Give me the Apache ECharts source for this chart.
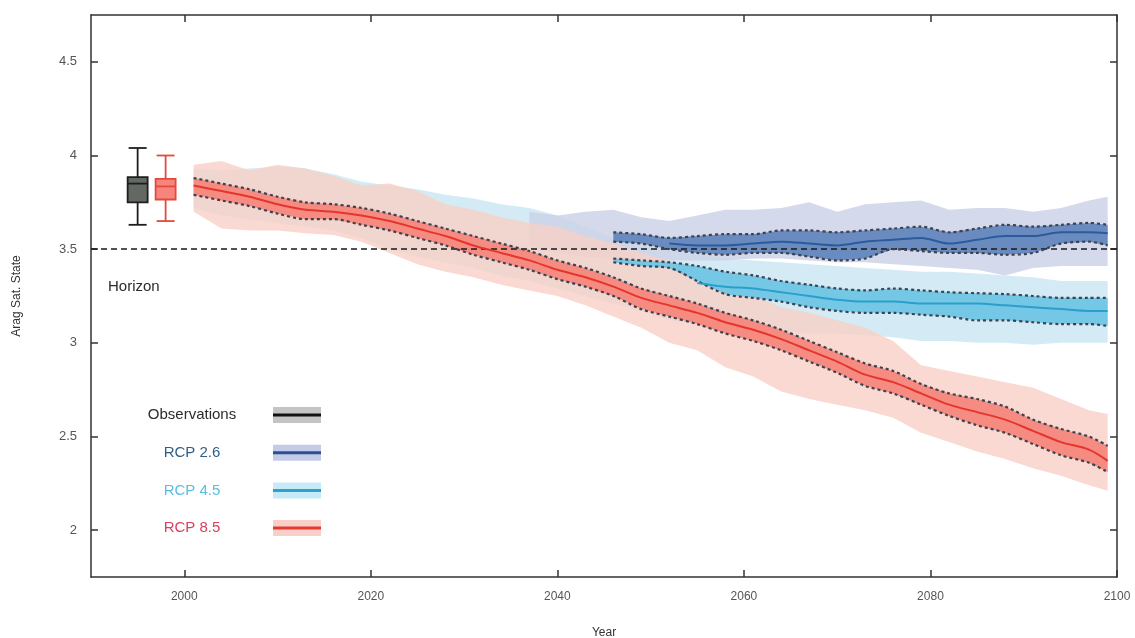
<!DOCTYPE html>
<html>
<head>
<meta charset="utf-8">
<script src="https://cdn.jsdelivr.net/npm/echarts@6/dist/echarts.min.js"></script>
<style>
html,body{margin:0;padding:0;background:#fff;}
#chart{width:1135px;height:638px;}
</style>
</head>
<body>
<div id="chart"></div>
<script>
// ---------------- data ----------------
const years = [2001,2004,2007,2010,2013,2016,2019,2022,2025,2028,2031,2034,2037,2040,2043,2046,2049,2052,2055,2058,2061,2064,2067,2070,2073,2076,2079,2082,2085,2088,2091,2094,2097,2099];

const rcp85Mean  = [3.84,3.81,3.78,3.74,3.71,3.70,3.68,3.65,3.61,3.57,3.52,3.48,3.44,3.39,3.35,3.30,3.24,3.20,3.16,3.11,3.07,3.02,2.96,2.90,2.83,2.79,2.73,2.67,2.63,2.59,2.53,2.47,2.43,2.37];
const rcp85InHi  = [3.88,3.85,3.82,3.78,3.75,3.74,3.72,3.69,3.65,3.61,3.57,3.53,3.49,3.44,3.40,3.35,3.29,3.25,3.21,3.16,3.12,3.07,3.01,2.95,2.89,2.85,2.78,2.73,2.70,2.66,2.59,2.54,2.50,2.45];
const rcp85InLo  = [3.79,3.76,3.73,3.69,3.66,3.66,3.63,3.60,3.56,3.52,3.47,3.43,3.39,3.34,3.30,3.25,3.18,3.14,3.10,3.05,3.01,2.96,2.90,2.84,2.77,2.73,2.67,2.61,2.56,2.52,2.46,2.40,2.36,2.31];
const rcp85OutHi = [3.95,3.97,3.92,3.95,3.93,3.89,3.84,3.85,3.81,3.74,3.71,3.67,3.64,3.62,3.57,3.53,3.48,3.44,3.37,3.31,3.25,3.19,3.16,3.12,3.08,3.01,2.88,2.85,2.82,2.79,2.76,2.70,2.64,2.62];
const rcp85OutLo = [3.70,3.61,3.60,3.60,3.585,3.575,3.54,3.48,3.42,3.38,3.35,3.31,3.28,3.25,3.20,3.14,3.08,3.00,2.96,2.87,2.82,2.74,2.70,2.67,2.64,2.60,2.52,2.47,2.42,2.38,2.33,2.29,2.24,2.21];

const rcp45OutHi = [3.93,3.92,3.93,3.94,3.93,3.90,3.86,3.84,3.82,3.79,3.77,3.74,3.72,3.68,3.62,3.56,3.52,3.49,3.47,3.45,3.44,3.43,3.42,3.41,3.40,3.39,3.38,3.38,3.37,3.36,3.35,3.33,3.33,3.33];
const rcp45OutLo = [3.72,3.68,3.66,3.64,3.62,3.60,3.56,3.50,3.46,3.43,3.40,3.36,3.33,3.29,3.25,3.21,3.17,3.12,3.10,3.08,3.07,3.06,3.05,3.05,3.04,3.03,3.01,3.01,3.00,3.00,2.99,3.00,3.00,3.00];
const rcp45InHi  = [null,null,null,null,null,null,null,null,null,null,null,null,null,null,null,3.45,3.44,3.43,3.41,3.38,3.36,3.33,3.31,3.29,3.28,3.29,3.28,3.27,3.265,3.26,3.25,3.24,3.24,3.24];
const rcp45InLo  = [null,null,null,null,null,null,null,null,null,null,null,null,null,null,null,3.43,3.41,3.40,3.33,3.26,3.24,3.22,3.19,3.17,3.16,3.16,3.15,3.14,3.12,3.12,3.11,3.10,3.10,3.09];
const rcp45Mean  = [null,null,null,null,null,null,null,null,null,null,null,null,null,null,null,null,null,null,3.32,3.30,3.29,3.27,3.25,3.23,3.22,3.22,3.21,3.21,3.21,3.20,3.19,3.18,3.17,3.17];

const rcp26OutHi = [null,null,null,null,null,null,null,null,null,null,null,null,3.70,3.68,3.70,3.71,3.67,3.65,3.68,3.71,3.71,3.72,3.75,3.70,3.74,3.75,3.76,3.71,3.72,3.72,3.70,3.72,3.76,3.78];
const rcp26OutLo = [null,null,null,null,null,null,null,null,null,null,null,null,3.52,3.48,3.46,3.45,3.44,3.44,3.44,3.44,3.45,3.45,3.44,3.43,3.43,3.42,3.41,3.40,3.39,3.36,3.40,3.41,3.41,3.41];
const rcp26InHi  = [null,null,null,null,null,null,null,null,null,null,null,null,null,null,null,3.59,3.58,3.56,3.57,3.58,3.58,3.60,3.60,3.59,3.60,3.61,3.62,3.59,3.61,3.63,3.62,3.63,3.64,3.63];
const rcp26InLo  = [null,null,null,null,null,null,null,null,null,null,null,null,null,null,null,3.54,3.53,3.50,3.48,3.47,3.48,3.48,3.46,3.44,3.45,3.50,3.49,3.48,3.48,3.47,3.48,3.53,3.54,3.52];
const rcp26Mean  = [null,null,null,null,null,null,null,null,null,null,null,null,null,null,null,null,null,3.53,3.52,3.52,3.53,3.54,3.53,3.52,3.54,3.55,3.56,3.53,3.55,3.57,3.57,3.59,3.59,3.585];

// box plots: [year, min, q1, median, q3, max]
const obsBox   = [1995, 3.63, 3.75, 3.85, 3.885, 4.04];
const modelBox = [1998, 3.65, 3.765, 3.835, 3.875, 4.00];

const horizonValue = 3.5;
const xTicks = [2000, 2020, 2040, 2060, 2080, 2100];
const yTicks = [2, 2.5, 3, 3.5, 4, 4.5];
const legendNames = ['Observations', 'RCP 2.6', 'RCP 4.5', 'RCP 8.5'];

// ---------------- helpers ----------------
function pairs(vals) {
  const out = [];
  years.forEach((y, i) => { if (vals[i] != null) out.push([y, vals[i]]); });
  return out;
}
function band(name, lo, hi, color, opacity, z) {
  const pts = [];
  years.forEach((y, i) => { if (lo[i] != null && hi[i] != null) pts.push([y, lo[i], hi[i]]); });
  return {
    type: 'custom', name: name, z: z, silent: true, clip: true,
    data: pts,
    encode: { x: 0, y: [1, 2] },
    renderItem: function (params, api) {
      if (params.dataIndex !== 0) return null;
      const upper = pts.map(p => api.coord([p[0], p[2]]));
      const lower = pts.slice().reverse().map(p => api.coord([p[0], p[1]]));
      return { type: 'polygon', shape: { points: upper.concat(lower) }, style: { fill: color, opacity: opacity } };
    }
  };
}
function line(name, vals, color, width, dash, z) {
  return {
    type: 'line', name: name, data: pairs(vals), z: z, silent: true,
    showSymbol: false, symbol: 'none', smooth: 0.3,
    lineStyle: { color: color, width: width, type: dash || 'solid' }
  };
}
function boxSeries(name, box, fill, stroke, z) {
  return {
    type: 'custom', name: name, z: z, silent: true,
    data: [box],
    encode: { x: 0, y: [1, 2, 3, 4, 5] },
    renderItem: function (params, api) {
      const x = api.value(0);
      const pMin = api.coord([x, api.value(1)]);
      const pQ1 = api.coord([x, api.value(2)]);
      const pMed = api.coord([x, api.value(3)]);
      const pQ3 = api.coord([x, api.value(4)]);
      const pMax = api.coord([x, api.value(5)]);
      const hw = 10, cw = 9;
      const ls = { stroke: stroke, lineWidth: 1.8 };
      return {
        type: 'group', children: [
          { type: 'line', shape: { x1: pMax[0], y1: pMax[1], x2: pQ3[0], y2: pQ3[1] }, style: ls },
          { type: 'line', shape: { x1: pQ1[0], y1: pQ1[1], x2: pMin[0], y2: pMin[1] }, style: ls },
          { type: 'line', shape: { x1: pMax[0] - cw, y1: pMax[1], x2: pMax[0] + cw, y2: pMax[1] }, style: ls },
          { type: 'line', shape: { x1: pMin[0] - cw, y1: pMin[1], x2: pMin[0] + cw, y2: pMin[1] }, style: ls },
          { type: 'rect', shape: { x: pQ3[0] - hw, y: pQ3[1], width: 2 * hw, height: pQ1[1] - pQ3[1] }, style: { fill: fill, stroke: stroke, lineWidth: 1.8 } },
          { type: 'line', shape: { x1: pMed[0] - hw, y1: pMed[1], x2: pMed[0] + hw, y2: pMed[1] }, style: ls }
        ]
      };
    }
  };
}

const FONT = '"Liberation Sans", Arial, Helvetica, sans-serif';
const dashEdge = [3, 3];
const edgeColor = '#3d4250';

// ---------------- legend graphics ----------------
const legendStyle = [
  { text: '#2b2b2b', band: '#c4c4c4', line: '#111111' },
  { text: '#2f5f86', band: '#c3cbe8', line: '#2d4f8e' },
  { text: '#5bbde0', band: '#c6ebf6', line: '#2aa3cf' },
  { text: '#d8405c', band: '#f9d0c8', line: '#e3392e' }
];
const legendGraphics = [];
legendNames.forEach((n, i) => {
  const cy = 415 + i * 37.7;
  legendGraphics.push({ type: 'text', x: 192, y: cy, style: { text: n, fill: legendStyle[i].text, font: '15px ' + FONT, textAlign: 'center', textVerticalAlign: 'middle' } });
  legendGraphics.push({ type: 'rect', shape: { x: 273, y: cy - 8, width: 48, height: 16 }, style: { fill: legendStyle[i].band } });
  legendGraphics.push({ type: 'line', shape: { x1: 273, y1: cy, x2: 321, y2: cy }, style: { stroke: legendStyle[i].line, lineWidth: 3 } });
});
legendGraphics.push({ type: 'text', x: 108, y: 287, style: { text: 'Horizon', fill: '#2b2b2b', font: '15px ' + FONT, textVerticalAlign: 'middle' } });

// ---------------- chart ----------------
const chart = echarts.init(document.getElementById('chart'), null, { renderer: 'canvas' });
const axisCommon = {
  axisLine: { show: true, onZero: false, lineStyle: { color: '#333', width: 1.5 } },
  splitLine: { show: false }
};
const option = {
  animation: false,
  backgroundColor: '#ffffff',
  grid: { left: 91, right: 18, top: 15, bottom: 61, containLabel: false, outerBoundsMode: 'none' },
  xAxis: [
    Object.assign({}, axisCommon, {
      type: 'value', min: 1990, max: 2100, position: 'bottom',
      name: 'Year', nameLocation: 'middle', nameGap: 50,
      nameTextStyle: { color: '#333', fontSize: 12, fontFamily: FONT },
      axisTick: { show: true, inside: true, length: 7, customValues: xTicks, lineStyle: { color: '#333', width: 1.5 } },
      axisLabel: { show: true, margin: 14, customValues: xTicks, color: '#555', fontSize: 12, fontFamily: FONT, formatter: v => String(v) }
    }),
    Object.assign({}, axisCommon, {
      type: 'value', min: 1990, max: 2100, position: 'top',
      axisTick: { show: true, inside: true, length: 7, customValues: xTicks, lineStyle: { color: '#333', width: 1.5 } },
      axisLabel: { show: false }
    })
  ],
  yAxis: [
    Object.assign({}, axisCommon, {
      type: 'value', min: 1.75, max: 4.75, position: 'left',
      name: 'Arag Sat. State', nameLocation: 'middle', nameGap: 68, nameRotate: 90,
      nameTextStyle: { color: '#333', fontSize: 12, fontFamily: FONT },
      axisTick: { show: true, inside: true, length: 7, customValues: yTicks, lineStyle: { color: '#333', width: 1.5 } },
      axisLabel: { show: true, margin: 14, customValues: yTicks, color: '#555', fontSize: 13, fontFamily: FONT, formatter: v => String(v) }
    }),
    Object.assign({}, axisCommon, {
      type: 'value', min: 1.75, max: 4.75, position: 'right',
      axisTick: { show: true, inside: true, length: 7, customValues: yTicks, lineStyle: { color: '#333', width: 1.5 } },
      axisLabel: { show: false }
    })
  ],
  graphic: legendGraphics,
  series: [
    band('RCP 4.5 range', rcp45OutLo, rcp45OutHi, '#d2eaf5', 0.95, 1),
    band('RCP 2.6 range', rcp26OutLo, rcp26OutHi, '#ccd2e8', 0.85, 2),
    band('RCP 8.5 range', rcp85OutLo, rcp85OutHi, '#f8cfc6', 0.8, 3),
    band('RCP 2.6 spread', rcp26InLo, rcp26InHi, '#5d82ba', 0.9, 4),
    band('RCP 4.5 spread', rcp45InLo, rcp45InHi, '#6fc6e5', 0.95, 4),
    band('RCP 8.5 spread', rcp85InLo, rcp85InHi, '#f5877c', 0.95, 4),
    line('RCP 2.6 upper', rcp26InHi, edgeColor, 2.2, dashEdge, 5),
    line('RCP 2.6 lower', rcp26InLo, edgeColor, 2.2, dashEdge, 5),
    line('RCP 4.5 upper', rcp45InHi, edgeColor, 2.2, dashEdge, 5),
    line('RCP 4.5 lower', rcp45InLo, edgeColor, 2.2, dashEdge, 5),
    line('RCP 8.5 upper', rcp85InHi, edgeColor, 2.2, dashEdge, 5),
    line('RCP 8.5 lower', rcp85InLo, edgeColor, 2.2, dashEdge, 5),
    line('RCP 2.6', rcp26Mean, '#2c5b9c', 2, 'solid', 6),
    line('RCP 4.5', rcp45Mean, '#2a9fcb', 2, 'solid', 6),
    line('RCP 8.5', rcp85Mean, '#e5352c', 2, 'solid', 6),
    {
      type: 'line', name: 'Horizon', data: [], z: 7, silent: true,
      markLine: {
        silent: true, symbol: 'none', label: { show: false }, animation: false,
        lineStyle: { color: '#1a1a1a', width: 1.6, type: [6, 4] },
        data: [{ yAxis: horizonValue }]
      }
    },
    boxSeries('Observations', obsBox, '#636863', '#1e1e1e', 8),
    boxSeries('Models', modelBox, '#f7857b', '#e24a3f', 8)
  ]
};
chart.setOption(option);
</script>
</body>
</html>
